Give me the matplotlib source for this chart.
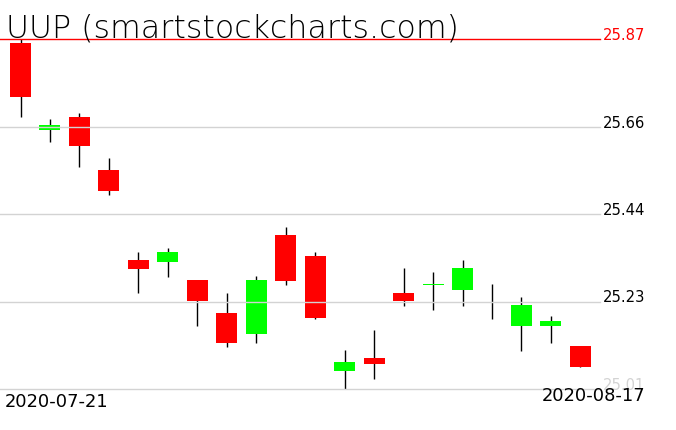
import matplotlib
matplotlib.use("Agg")
import matplotlib.pyplot as plt
import numpy as np

# ---- data ----
dates = ["2020-07-21", "2020-07-22", "2020-07-23", "2020-07-24", "2020-07-27",
         "2020-07-28", "2020-07-29", "2020-07-30", "2020-07-31", "2020-08-03",
         "2020-08-04", "2020-08-05", "2020-08-06", "2020-08-07", "2020-08-10",
         "2020-08-11", "2020-08-12", "2020-08-13", "2020-08-14", "2020-08-17"]
opens  = [25.860, 25.647, 25.678, 25.548, 25.327, 25.323, 25.278, 25.197, 25.145, 25.388,
          25.337, 25.055, 25.086, 25.246, 25.266, 25.254, 25.230, 25.165, 25.165, 25.116]
highs  = [25.870, 25.673, 25.688, 25.578, 25.347, 25.356, 25.278, 25.246, 25.288, 25.408,
          25.347, 25.106, 25.155, 25.307, 25.298, 25.327, 25.268, 25.236, 25.189, 25.116]
lows   = [25.678, 25.616, 25.556, 25.487, 25.247, 25.286, 25.166, 25.114, 25.124, 25.266,
          25.183, 25.010, 25.035, 25.214, 25.205, 25.214, 25.183, 25.104, 25.124, 25.064]
closes = [25.728, 25.659, 25.608, 25.497, 25.305, 25.347, 25.227, 25.124, 25.278, 25.276,
          25.185, 25.076, 25.072, 25.226, 25.268, 25.307, 25.230, 25.216, 25.177, 25.064]
ytick_labels = ["25.87", "25.66", "25.44", "25.23", "25.01"]
title = "UUP (smartstockcharts.com)"

W, H = 676, 431
fig = plt.figure(figsize=(W / 100, H / 100), dpi=100)
ax = fig.add_axes([0, 0, 1, 1])
ax.set_axis_off()

n = len(dates)
x = np.arange(n)
o = np.array(opens); c = np.array(closes)
hi = max(highs); lo = min(lows)
rng = hi - lo

# pixel geometry
x0_px, dx_px = 20.5, 29.47
ax.set_xlim(-x0_px / dx_px, (W - x0_px) / dx_px)
top_px, bot_px = 40, 390
ppu = (bot_px - top_px) / rng
ax.set_ylim(lo - (H - bot_px) / ppu, hi + top_px / ppu)

# wicks
ax.vlines(x, lows, highs, color="black", lw=1.0, zorder=1)

# bodies
colors = ["#00ff00" if cc >= oo else "#ff0000" for oo, cc in zip(o, c)]
heights = np.abs(c - o)
bottoms = np.minimum(o, c)
mask = heights > 0
ax.bar(x[mask], heights[mask], bottom=bottoms[mask], width=0.713,
       color=[col for col, m in zip(colors, mask) if m], zorder=2, linewidth=0)

# grid lines and labels
levels = np.linspace(hi, lo, len(ytick_labels))
line_colors = ["#ff0000"] + ["#d3d3d3"] * (len(levels) - 1)
label_colors = ["#ff0000"] + ["#000000"] * (len(levels) - 2) + ["#d3d3d3"]
for lev, lab, lc, tc in zip(levels, ytick_labels, line_colors, label_colors):
    ax.axhline(lev, xmin=0, xmax=600 / W, color=lc, lw=1.0, zorder=3)
    ax.text(603 / W, lev, lab, transform=ax.get_yaxis_transform(),
            ha="left", va="baseline", fontsize=10.6, color=tc, zorder=4)

# date labels
fig.text(5 / W, 1 - 407 / H, dates[0], ha="left", va="baseline", fontsize=12.9, color="black")
fig.text(645 / W, 1 - 401 / H, dates[-1], ha="right", va="baseline", fontsize=12.9, color="black")

# title
fig.text(6 / W, 1 - 37 / H, title, ha="left", va="baseline", fontsize=22.8,
         color="black", fontweight="light")

fig.savefig("out.png", dpi=100)
